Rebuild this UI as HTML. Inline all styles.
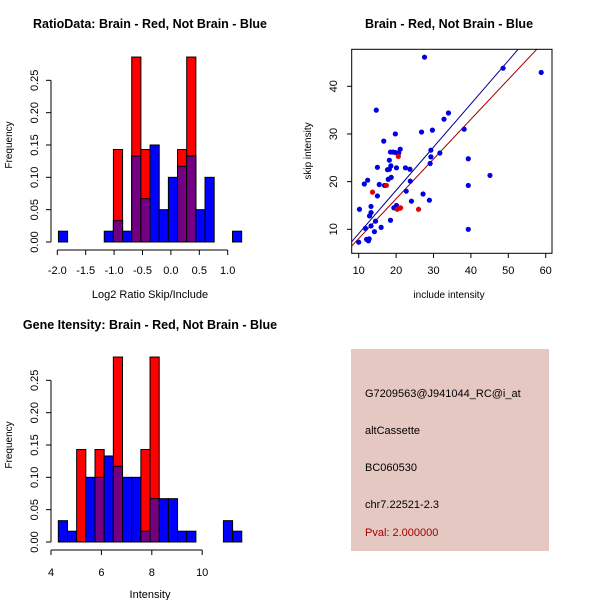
<!DOCTYPE html>
<html><head><meta charset="utf-8">
<style>
html,body{margin:0;padding:0;background:#fff;}
svg{display:block;font-family:"Liberation Sans",sans-serif;}
</style></head>
<body>
<svg id="s" width="600" height="600" viewBox="0 0 600 600">
<rect width="600" height="600" fill="#fff"/>
<g>
<rect x="351" y="349" width="198" height="202" fill="#e6c8c2"/>
<text x="365" y="397" font-size="11">G7209563@J941044_RC@i_at</text>
<text x="365" y="434" font-size="11">altCassette</text>
<text x="365" y="471" font-size="11">BC060530</text>
<text x="365" y="508" font-size="11">chr7.22521-2.3</text>
<text x="365" y="536" font-size="11" fill="#a00000">Pval: 2.000000</text>
</g>
</svg>
<script>
// ---- Ratio histogram data ----
const ratioStart = -1.98, ratioWidth = 0.1613;
const ratioBlue = [0.0167,0,0,0,0,0.0167,0.033,0.0167,0.133,0.067,0.15,0.05,0.1,0.117,0.133,0.05,0.1,0,0,0.0167];
const ratioRed  = [0,0,0,0,0,0,0.143,0,0.286,0.143,0,0,0,0.143,0.286,0,0,0,0,0];
const ratioXTicks = [-2.0,-1.5,-1.0,-0.5,0.0,0.5,1.0];
const freqTicks = [0,0.05,0.10,0.15,0.20,0.25];
const freqTickLabels = ["0.00","0.05","0.10","0.15","0.20","0.25"];
// ---- Intensity histogram data ----
const intStart = 4.29, intWidth = 0.364;
const intBlue = [0.033,0.0167,0,0.1,0.1,0.133,0.117,0.1,0.1,0.0167,0.067,0.067,0.067,0.0167,0.0167,0,0,0,0.033,0.0167];
const intRed  = [0,0,0.143,0,0.143,0,0.286,0,0,0.143,0.286,0,0,0,0,0,0,0,0,0];
const intXTicks = [4,6,8,10];
// ---- Scatter data ----
const blueX = [10,10.2,11.5,11.8,12.4,12.1,12.6,12.8,12.9,13.3,13.3,13.3,14.2,14.5,14.7,15,15,15.5,16,16.7,16.9,17.7,17.9,18.2,18.2,18.6,18.7,18.5,18.5,19.2,19.4,19.8,20.1,20.1,20.7,21.1,19.9,22.5,22.7,23.7,23.8,24.1,26.8,27.2,27.6,28.9,29.1,29.3,29.3,29.7,31.7,32.8,34,38.2,39.3,39.3,39.3,45.1,48.6,58.8];
const blueY = [7.3,14.2,19.5,10.2,20.3,7.9,7.6,8,12.8,14.8,13.5,10.7,9.5,11.7,35,17,23,19.4,10.4,28.5,19.2,22.5,20.5,22.6,24.5,23.3,20.9,26.2,11.9,26.2,14.5,30,22.9,15,26,26.8,26.1,22.9,18,22.6,20.1,15.9,30.4,17.4,46.1,16.1,23.8,25.2,26.6,30.8,26,33.1,34.4,31,19.2,24.8,10,21.3,43.8,42.9];
const redX = [13.7,17.4,20.6,20.3,21,26,21.2];
const redY = [17.8,19.2,25.3,14.2,14.4,14.2,14.5];
const blueFit = [0.03,0.907];
const redFit = [-0.28,0.834];
const scXTicks = [10,20,30,40,50,60];
const scYTicks = [10,20,30,40];

const NS = "http://www.w3.org/2000/svg";
const svg = document.getElementById('s');
function el(tag, attrs, parent){
  const e = document.createElementNS(NS, tag);
  for (const k in attrs) e.setAttribute(k, attrs[k]);
  (parent||svg).appendChild(e);
  return e;
}
function txt(x,y,s,opts,parent){
  const t = el('text', Object.assign({x:x,y:y,'font-size':11,'text-anchor':'middle'},opts||{}), parent);
  t.textContent = s;
  return t;
}

function histogram(name, title, xlab, start, width, blue, red, xticks, xfmt, X0, Xunit, xv0, Y0, Yunit, titleY, axisY, lblY, xlabY){
  const g = el('g', {});
  
  
  const sx = v => X0 + (v - xv0) * Xunit;
  const sy = v => Y0 - v * Yunit;
  const t = txt(150, titleY, title, {'font-size':12.5,'font-weight':'bold'}, g);
  
  
  for (let i = 0; i < blue.length; i++){
    const x1 = sx(start + i*width), x2 = sx(start + (i+1)*width);
    const b = blue[i], r = red[i];
    if (b > 0){
      const rb = el('rect', {x:x1, y:sy(b), width:x2-x1, height:sy(0)-sy(b), fill:'#0000ff', stroke:'#000', 'stroke-width':1}, g);
      
      
    }
    if (r > 0){
      const rr = el('rect', {x:x1, y:sy(r), width:x2-x1, height:sy(0)-sy(r), fill:'#ff0000', stroke:'#000', 'stroke-width':1}, g);
      
      
      const m = Math.min(r, b);
      if (m > 0){
        const rp = el('rect', {x:x1, y:sy(m), width:x2-x1, height:sy(0)-sy(m), fill:'#730082', stroke:'#000', 'stroke-width':1}, g);
        
        
      }
    }
  }
  const xa = el('line', {x1:sx(xticks[0]), x2:sx(xticks[xticks.length-1]), y1:axisY, y2:axisY, stroke:'#000'}, g);
  
  
  xticks.forEach(v => {
    el('line', {x1:sx(v), x2:sx(v), y1:axisY, y2:axisY+5, stroke:'#000'}, g);
    const l = txt(sx(v), lblY, xfmt(v), {}, g);
    
    
  });
  const xl = txt(150, xlabY, xlab, {}, g);
  
  
  const ya = el('line', {x1:51, x2:51, y1:sy(0), y2:sy(0.25), stroke:'#000'}, g);
  
  
  freqTicks.forEach((v,i) => {
    el('line', {x1:46, x2:51, y1:sy(v), y2:sy(v), stroke:'#000'}, g);
    const l = txt(38, sy(v), freqTickLabels[i], {transform:`rotate(-90 38 ${sy(v)})`}, g);
    
    
  });
  const yl = txt(12, sy(0.15), 'Frequency', {'font-size':10, transform:`rotate(-90 12 ${sy(0.15)})`}, g);
  
  
}

histogram('ratio-histogram', 'RatioData: Brain - Red, Not Brain - Blue', 'Log2 Ratio Skip/Include',
  ratioStart, ratioWidth, ratioBlue, ratioRed, ratioXTicks, v => v.toFixed(1),
  57.3, 56.8, -2.0, 242, 646.7, 28, 250, 274, 298);
histogram('intensity-histogram', 'Gene Itensity: Brain - Red, Not Brain - Blue', 'Intensity',
  intStart, intWidth, intBlue, intRed, intXTicks, v => String(v),
  51, 25.2, 4, 542, 646.7, 329, 550, 576, 598);

(function(){
  const g = el('g', {});
  
  
  const sx = v => 358.7 + (v - 10) * 3.74;
  const sy = v => 229.3 - (v - 10) * 4.767;
  const t = txt(449, 28, 'Brain - Red, Not Brain - Blue', {'font-size':12.5,'font-weight':'bold'}, g);
  
  
  const cp = el('clipPath', {id:'cp'}, g);
  el('rect', {x:352, y:49, width:200, height:204}, cp);
  const lg = el('g', {'clip-path':'url(#cp)'}, g);
  const xa0 = 5, xa1 = 65;
  const lb = el('line', {x1:sx(xa0), y1:sy(blueFit[0]+blueFit[1]*xa0), x2:sx(xa1), y2:sy(blueFit[0]+blueFit[1]*xa1), stroke:'#00008b', 'stroke-width':1}, lg);
  
  
  const lr = el('line', {x1:sx(xa0), y1:sy(redFit[0]+redFit[1]*xa0), x2:sx(xa1), y2:sy(redFit[0]+redFit[1]*xa1), stroke:'#a00000', 'stroke-width':1}, lg);
  
  
  blueX.forEach((x,i) => {
    const c = el('circle', {cx:sx(x), cy:sy(blueY[i]), r:2.6, fill:'#0000e0'}, g);
    
    
  });
  redX.forEach((x,i) => {
    const c = el('circle', {cx:sx(x), cy:sy(redY[i]), r:2.6, fill:'#e00000'}, g);
    
    
  });
  const box = el('rect', {x:351.7, y:49.3, width:200.3, height:204, fill:'none', stroke:'#000'}, g);
  
  
  scXTicks.forEach(v => {
    el('line', {x1:sx(v), x2:sx(v), y1:253.3, y2:258, stroke:'#000'}, g);
    const l = txt(sx(v), 274, String(v), {}, g);
    
    
  });
  scYTicks.forEach(v => {
    el('line', {x1:347, x2:351.7, y1:sy(v), y2:sy(v), stroke:'#000'}, g);
    const l = txt(337, sy(v), String(v), {transform:`rotate(-90 337 ${sy(v)})`}, g);
    
    
  });
  const xl = txt(449, 298, 'include intensity', {'font-size':10}, g);
  
  
  const yl = txt(311, 151, 'skip intensity', {'font-size':10, transform:'rotate(-90 311 151)'}, g);
  
  
})();
</script>
</body></html>
